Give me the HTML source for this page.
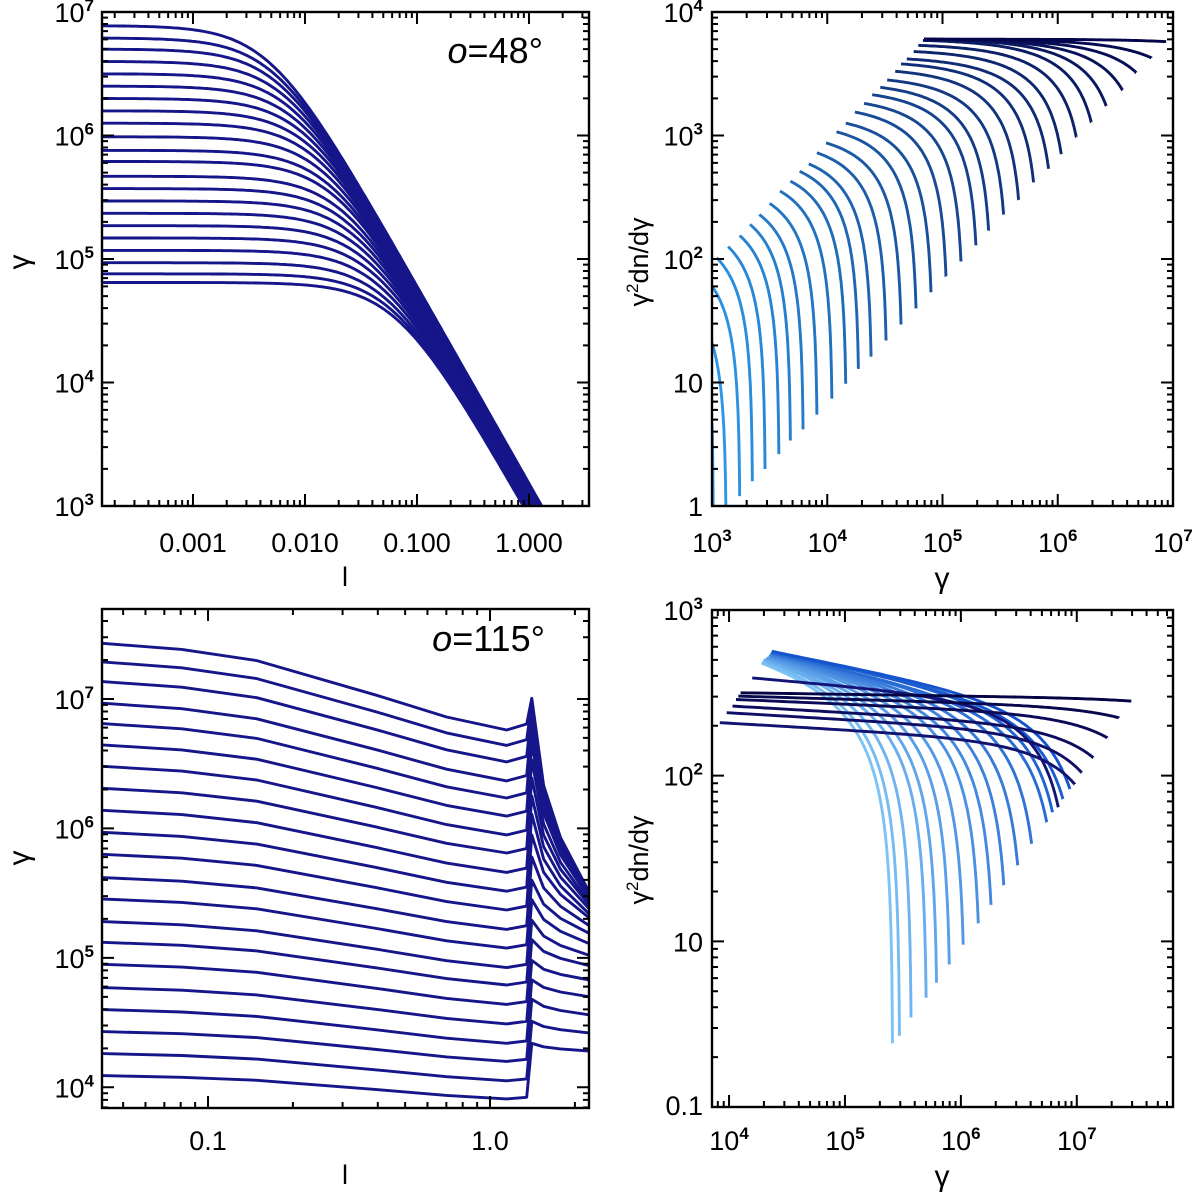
<!DOCTYPE html>
<html><head><meta charset="utf-8"><style>
html,body{margin:0;padding:0;background:#fff;}
svg{display:block;}
text{font-family:"Liberation Sans",sans-serif;fill:#000;}
</style></head><body>
<svg id="fig" width="1200" height="1196" viewBox="0 0 1200 1196" xmlns="http://www.w3.org/2000/svg"></svg>
<script>
// ---------- DATA ----------
const tlStartLog = [6.89,6.79,6.70,6.60,6.50,6.40,6.30,6.20,6.10,5.99,5.88,5.79,5.67,5.57,5.47,5.37,5.27,5.17,5.07,4.97,4.88,4.81];
const tlAsymRefL = [1.30,1.28,1.26,1.24,1.22,1.20,1.18,1.16,1.14,1.12,1.10,1.08,1.06,1.04,1.02,1.00,0.98,0.96,0.94,0.92,0.91,0.90];
const tlAsymRefG = 1e3, tlAsymSlope = -1.6;
const trStartG = [3.0,3.0,3.0,3.04,3.14,3.24,3.33,3.41,3.50,3.59,3.68,3.76,3.84,3.91,3.99,4.08,4.16,4.24,4.32,4.39,4.46,4.52,4.59,4.64,4.69,4.75,4.79,4.83,4.84,4.84,4.84,4.84,4.84];
const trStartY = [0.67,1.32,1.78,2.01,2.10,2.19,2.28,2.36,2.45,2.55,2.63,2.71,2.77,2.86,2.94,3.03,3.10,3.19,3.26,3.33,3.39,3.45,3.52,3.58,3.62,3.68,3.73,3.77,3.78,3.78,3.78,3.78,3.78];
const trEndG = [3.01,3.12,3.24,3.35,3.46,3.58,3.68,3.79,3.91,4.04,4.16,4.27,4.38,4.51,4.64,4.77,4.90,5.03,5.16,5.29,5.40,5.53,5.66,5.79,5.92,6.03,6.16,6.29,6.42,6.56,6.68,6.81,6.94];
const trEndY = [0.0,0.0,0.08,0.20,0.30,0.42,0.53,0.62,0.74,0.87,0.99,1.11,1.21,1.34,1.47,1.60,1.73,1.86,1.98,2.11,2.23,2.36,2.48,2.62,2.73,2.85,2.99,3.11,3.24,3.37,3.51,3.63,3.76];
const blKnotL = [-1.375,-1.093,-0.827,-0.402,-0.154,0.059,0.130,0.148,0.19,0.25,0.351];
const blStart = [7.43,7.286,7.134,6.967,6.81,6.645,6.48,6.31,6.14,5.97,5.80,5.62,5.455,5.28,5.12,4.95,4.77,4.60,4.43,4.26,4.09];
const blDrop  = [0.67,0.645,0.62,0.60,0.575,0.55,0.53,0.50,0.48,0.455,0.43,0.40,0.38,0.355,0.33,0.31,0.28,0.26,0.23,0.21,0.18];
const blPeak  = [7.005,6.97,6.92,6.84,6.76,6.66,6.53,6.39,6.25,6.11,5.95,5.78,5.60,5.45,5.29,5.14,4.98,4.83,4.68,4.51,4.34];
const blEnd   = [5.51,5.50,5.50,5.49,5.47,5.46,5.43,5.41,5.38,5.34,5.31,5.25,5.19,5.11,5.02,4.94,4.83,4.70,4.56,4.42,4.28];
const brStartG = [4.28,4.29,4.30,4.31,4.32,4.33,4.34,4.35,4.35,4.36,4.36,4.37,4.37,4.37,4.37,4.37,4.20,3.92,3.98,4.03,4.06,4.08,4.10];
const brStartY = [2.68,2.69,2.70,2.70,2.71,2.71,2.72,2.72,2.73,2.73,2.74,2.74,2.74,2.75,2.75,2.75,2.59,2.32,2.38,2.42,2.46,2.48,2.50];
const brEndG = [5.41,5.47,5.57,5.70,5.79,5.90,6.02,6.15,6.26,6.37,6.49,6.61,6.74,6.79,6.88,6.94,6.84,6.98,7.04,7.14,7.26,7.36,7.47];
const brEndY = [0.385,0.43,0.54,0.66,0.75,0.86,0.98,1.11,1.22,1.34,1.46,1.59,1.72,1.78,1.86,1.92,1.81,1.95,2.02,2.11,2.23,2.35,2.45];
const brSlope = [-0.2,-0.2,-0.2,-0.2,-0.2,-0.19,-0.19,-0.18,-0.18,-0.17,-0.17,-0.16,-0.16,-0.15,-0.15,-0.14,-0.06,-0.04,-0.04,-0.04,-0.03,-0.02,-0.01];

// ---------- HELPERS ----------
const NS="http://www.w3.org/2000/svg";
const svg=document.getElementById('fig');
function el(tag,attrs,parent){const e=document.createElementNS(NS,tag);for(const k in attrs)e.setAttribute(k,attrs[k]);(parent||svg).appendChild(e);return e;}
function mkAxis(x0,x1,lx0,lx1,y0,y1,ly0,ly1){
  return {X:v=>x0+(v-lx0)/(lx1-lx0)*(x1-x0), Y:v=>y0+(v-ly0)/(ly1-ly0)*(y1-y0), x0,x1,y0,y1,lx0,lx1,ly0,ly1};
}
function lerpC(a,b,t){return 'rgb('+a.map((v,i)=>Math.round(v+(b[i]-v)*t)).join(',')+')';}
function frame(ax,name){
  const g=el('g',{});
  
  
  const d=[];
  function xt(v,len){const x=ax.X(v);d.push(`M${x},${ax.y1}v${-len}M${x},${ax.y0}v${len}`);}
  function yt(v,len){const y=ax.Y(v);d.push(`M${ax.x0},${y}h${len}M${ax.x1},${y}h${-len}`);}
  for(let dd=Math.floor(Math.min(ax.lx0,ax.lx1))-1;dd<=Math.ceil(Math.max(ax.lx0,ax.lx1));dd++)for(let m=1;m<10;m++){const v=dd+Math.log10(m);if(v>=Math.min(ax.lx0,ax.lx1)-1e-6&&v<=Math.max(ax.lx0,ax.lx1)+1e-6)xt(v,m===1?12:6);}
  for(let dd=Math.floor(Math.min(ax.ly0,ax.ly1))-1;dd<=Math.ceil(Math.max(ax.ly0,ax.ly1));dd++)for(let m=1;m<10;m++){const v=dd+Math.log10(m);if(v>=Math.min(ax.ly0,ax.ly1)-1e-6&&v<=Math.max(ax.ly0,ax.ly1)+1e-6)yt(v,m===1?12:6);}
  el('path',{d:d.join(''),stroke:'#000','stroke-width':2,fill:'none'},g);
  el('rect',{x:ax.x0,y:ax.y0,width:ax.x1-ax.x0,height:ax.y1-ax.y0,fill:'none',stroke:'#000','stroke-width':2.4},g);
}
function pow10Label(x,y,exp,anchor,name){
  const t=el('text',{x:x,y:y,'font-size':27,'text-anchor':anchor});
  
  
  t.appendChild(document.createTextNode('10'));
  const s=el('tspan',{dy:-11,'font-size':17,'font-weight':'bold'},t);s.textContent=exp;
  return t;
}
function plainLabel(x,y,txt,anchor,name,size){
  const t=el('text',{x:x,y:y,'font-size':size||27,'text-anchor':anchor});
  
  
  t.textContent=txt;return t;
}
function clip(ax,id){const c=el('clipPath',{id:id});el('rect',{x:ax.x0,y:ax.y0,width:ax.x1-ax.x0,height:ax.y1-ax.y0},c);}
function poly(pts,color,name,clipId,w){
  const p=el('polyline',{points:pts.map(p=>p[0].toFixed(1)+','+p[1].toFixed(1)).join(' '),fill:'none',stroke:color,'stroke-width':w||2.9,'stroke-linejoin':'round','clip-path':'url(#'+clipId+')'});
  
  
}
function specCurve(ax,g0,y0,gE,yE,s){
  const G0=Math.pow(10,g0),GE=Math.pow(10,gE);
  const base=y0+s*(gE-g0);
  const c=1-Math.pow(10,yE-base);
  const pts=[];const N=160;
  for(let i=0;i<=N;i++){
    const lg=g0+(gE-g0)*(1-Math.pow(1-i/N,3));
    const G=Math.pow(10,lg);const t=(G-G0)/(GE-G0);
    const f=Math.max(1-c*t,1e-4);
    pts.push([ax.X(lg),ax.Y(y0+s*(lg-g0)+Math.log10(f))]);
  }
  return pts;
}

// ---------- PANEL 1 ----------
const A1=mkAxis(102,589,-3.8125,0.536,12,506,7,3);
clip(A1,'c1');
tlStartLog.forEach((s,i)=>{
  const pts=[];
  for(let k=0;k<=200;k++){
    const ll=A1.lx0+(A1.lx1-A1.lx0)*k/200;
    const ginf=Math.log10(tlAsymRefG)+tlAsymSlope*(ll-Math.log10(tlAsymRefL[i]));
    const n=1.0;
    const lg=-Math.log10(Math.pow(10,-n*s)+Math.pow(10,-n*ginf))/n;
    pts.push([A1.X(ll),A1.Y(lg)]);
    if(lg<2.95)break;
  }
  poly(pts,'rgb(22,22,138)','tl-curve-'+i,'c1');
});
frame(A1,'top-left');
['0.001','0.010','0.100','1.000'].forEach((t,i)=>plainLabel(A1.X(-3+i),552,t,'middle','tl-x-tick-'+i));
[3,4,5,6,7].forEach(e=>pow10Label(94,A1.Y(e)+10,e,'end','tl-y-tick-'+e));
plainLabel(345,586,'l','middle','tl-x-title');
(function(){const t=el('text',{x:29,y:262,'font-size':30,'text-anchor':'middle',transform:'rotate(-90 29 262)'});t.textContent='γ';})();
(function(){const t=el('text',{x:543,y:63,'font-size':36,'text-anchor':'end','font-family':'Liberation Serif, serif'});t.innerHTML='<tspan font-style="italic">o</tspan>=48°';})();

// ---------- PANEL 2 ----------
const A2=mkAxis(712,1173,3,7,12,506,4,0);
clip(A2,'c2');
trStartG.forEach((g0,i)=>{
  const t=i/(trStartG.length-1);
  poly(specCurve(A2,g0,trStartY[i],trEndG[i],trEndY[i],0),lerpC([45,155,235],[5,5,75],t),'tr-curve-'+i,'c2');
});
frame(A2,'top-right');
[3,4,5,6,7].forEach(e=>pow10Label(A2.X(e),552,e,'middle','tr-x-tick-'+e));
pow10Label(703,A2.Y(4)+10,4,'end','tr-y-tick-4');
pow10Label(703,A2.Y(3)+10,3,'end','tr-y-tick-3');
pow10Label(703,A2.Y(2)+10,2,'end','tr-y-tick-2');
plainLabel(703,A2.Y(1)+10,'10','end','tr-y-tick-1');
plainLabel(703,A2.Y(0)+10,'1','end','tr-y-tick-0');
plainLabel(942,588,'γ','middle','tr-x-title',30);
(function(){const t=el('text',{x:648,y:262,'font-size':27,'text-anchor':'middle',transform:'rotate(-90 648 262)'});t.innerHTML='γ<tspan dy="-10" font-size="17">2</tspan><tspan dy="10">dn/dγ</tspan>';})();

// ---------- PANEL 3 ----------
const A3=mkAxis(102,589,-1.376,0.351,609,1108,7.695,3.84);
clip(A3,'c3');
const blFrac=[0,0.07,0.2,0.6,0.85,1.0,0.93];
blStart.forEach((s,i)=>{
  const lv=blFrac.map(f=>s-blDrop[i]*f);
  const pk=blPeak[i],en=blEnd[i];
  lv.push(pk,pk-(pk-en)*0.45,pk-(pk-en)*0.72,en);
  poly(blKnotL.map((l,k)=>[A3.X(l),A3.Y(lv[k])]),'rgb(22,22,138)','bl-curve-'+i,'c3');
});
frame(A3,'bottom-left');
plainLabel(A3.X(-1),1150,'0.1','middle','bl-x-tick-0');
plainLabel(A3.X(0),1150,'1.0','middle','bl-x-tick-1');
[4,5,6,7].forEach(e=>pow10Label(94,A3.Y(e)+10,e,'end','bl-y-tick-'+e));
plainLabel(345,1184,'l','middle','bl-x-title');
(function(){const t=el('text',{x:29,y:858,'font-size':30,'text-anchor':'middle',transform:'rotate(-90 29 858)'});t.textContent='γ';})();
(function(){const t=el('text',{x:545,y:651,'font-size':36,'text-anchor':'end','font-family':'Liberation Serif, serif'});t.innerHTML='<tspan font-style="italic">o</tspan>=115°';})();

// ---------- PANEL 4 ----------
const A4=mkAxis(712,1173,3.853,7.83,610,1107,3,0);
clip(A4,'c4');
brStartG.forEach((g0,i)=>{
  let col;
  if(i<16) col=lerpC([125,195,245],[20,85,205],i/15);
  else col=lerpC([20,20,120],[5,5,70],(i-16)/6);
  poly(specCurve(A4,g0,brStartY[i],brEndG[i],brEndY[i],brSlope[i]),col,'br-curve-'+i,'c4');
});
frame(A4,'bottom-right');
[4,5,6,7].forEach(e=>pow10Label(A4.X(e),1150,e,'middle','br-x-tick-'+e));
pow10Label(703,A4.Y(3)+10,3,'end','br-y-tick-3');
pow10Label(703,A4.Y(2)+10,2,'end','br-y-tick-2');
plainLabel(703,A4.Y(1)+10,'10','end','br-y-tick-1');
plainLabel(703,A4.Y(0)+8,'0.1','end','br-y-tick-0');
plainLabel(942,1186,'γ','middle','br-x-title',30);
(function(){const t=el('text',{x:648,y:860,'font-size':27,'text-anchor':'middle',transform:'rotate(-90 648 860)'});t.innerHTML='γ<tspan dy="-10" font-size="17">2</tspan><tspan dy="10">dn/dγ</tspan>';})();
</script>
</body></html>
